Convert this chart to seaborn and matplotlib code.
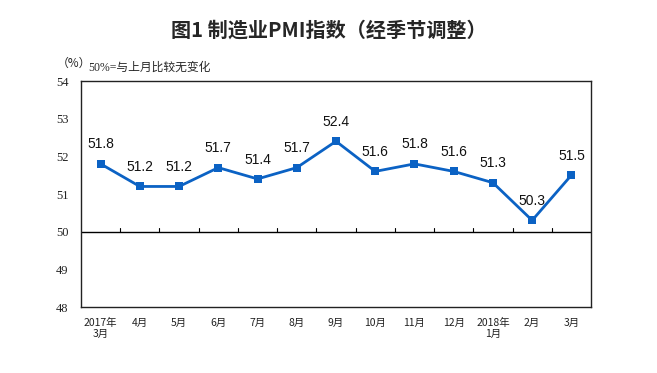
import matplotlib
matplotlib.use("Agg")
import matplotlib.pyplot as plt
import seaborn as sns
import numpy as np
import pandas as pd

months = ["2017年\n3月", "4月", "5月", "6月", "7月", "8月", "9月", "10月", "11月", "12月", "2018年\n1月", "2月", "3月"]
pmi = [51.8, 51.2, 51.2, 51.7, 51.4, 51.7, 52.4, 51.6, 51.8, 51.6, 51.3, 50.3, 51.5]
yticks = [48, 49, 50, 51, 52, 53, 54]

sns.set_theme(style="white")
plt.rcParams['font.family'] = ['Liberation Sans', 'Noto Sans CJK SC', 'DejaVu Sans']

df = pd.DataFrame({"pos": np.arange(len(months)), "pmi": pmi})

fig = plt.figure(figsize=(6.57, 3.73), dpi=100)
ax = fig.add_axes([81/657, 1-307/373, 510/657, 226/373])

color = "#0B62C4"
sns.lineplot(data=df, x="pos", y="pmi", ax=ax, color=color, lw=2,
             marker="s", markersize=6, markeredgewidth=0, markerfacecolor=color)

for x, y in zip(df["pos"], df["pmi"]):
    ax.text(x, y + 0.33, f"{y:.1f}", ha="center", va="bottom", fontsize=10, color="#111111")

ax.set_xlim(-0.5, len(months) - 0.5)
ax.set_ylim(48, 54)
ax.set_yticks(yticks)
ax.set_yticklabels([str(t) for t in yticks], fontsize=9, color="#222222",
                   family=['Liberation Serif', 'DejaVu Serif'])
ax.set_xticks(df["pos"])
ax.set_xticklabels(months, fontsize=7.5, color="#222222", family=['Noto Sans CJK SC', 'DejaVu Sans'], linespacing=1.1)
ax.tick_params(axis="x", length=0, pad=8)
ax.tick_params(axis="y", length=0, pad=9)
ax.set_xlabel("")
ax.set_ylabel("")

ax.axhline(50, color="black", lw=1)
for b in np.arange(len(months) - 1) + 0.5:
    ax.plot([b, b], [50, 50.1], color="black", lw=0.8)

for s in ax.spines.values():
    s.set_color("#222222")
    s.set_linewidth(1)
    s.set_visible(True)

fig.text(0.5, 1 - 30/373, "图1 制造业PMI指数（经季节调整）", ha="center", va="center",
         fontsize=14.5, fontweight="bold", family=['Noto Sans CJK SC', 'DejaVu Sans'])
fig.text(57/657, 1 - 63/373, "（%）", ha="left", va="center", fontsize=8.5,
         family=['Noto Sans CJK SC', 'DejaVu Sans'])
fig.text(88/657, 1 - 68/373, "50%=与上月比较无变化", ha="left", va="center", fontsize=8.5,
         family=['Liberation Serif', 'Noto Sans CJK SC', 'DejaVu Sans'])

fig.savefig("out.png", dpi=100, facecolor="white")
